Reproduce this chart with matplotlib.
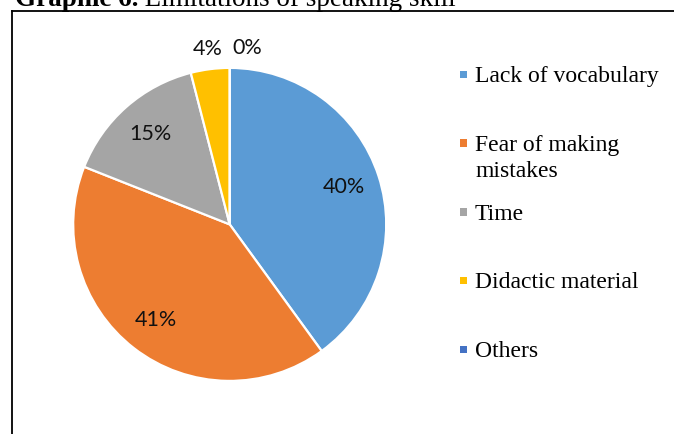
import matplotlib
matplotlib.use("Agg")
import matplotlib.pyplot as plt
from matplotlib.lines import Line2D
import numpy as np

# ---- data ----
categories = ["Lack of vocabulary", "Fear of making mistakes", "Time",
              "Didactic material", "Others"]
legend_labels = ["Lack of vocabulary", "Fear of making\nmistakes", "Time",
                 "Didactic material", "Others"]
values = [40, 41, 15, 4, 0]
colors = ["#5B9BD5", "#ED7D31", "#A5A5A5", "#FFC000", "#4472C4"]
title_bold = "Graphic 6."
title_rest = " Limitations of speaking skill"

W, H = 674, 434
fig = plt.figure(figsize=(W / 100, H / 100), dpi=100)

def fx(px):
    return px / W

def fy(py):
    return 1 - py / H

# frame
fig.add_artist(Line2D([fx(11.5), fx(11.5)], [fy(10.8), fy(440)], color="black", lw=1.3))
fig.add_artist(Line2D([fx(11.5), fx(680)], [fy(10.8), fy(10.8)], color="black", lw=1.3))

# title (cut off at top, as in the source)
t1 = fig.text(fx(15), fy(6.3), title_bold, fontsize=19.5, fontweight="bold",
              family="Liberation Serif", ha="left", va="baseline")
fig.canvas.draw()
bb = t1.get_window_extent()
fig.text(bb.x1 / W, fy(6.3), title_rest, fontsize=19.5,
         family="Liberation Serif", ha="left", va="baseline")

# pie
cx, cy, r = 229.7, 224.4, 156.5
ax = fig.add_axes([fx(cx - r), fy(cy + r), 2 * r / W, 2 * r / H])
wedges, _ = ax.pie(values, colors=colors, startangle=90, counterclock=False,
                   wedgeprops=dict(edgecolor="white", linewidth=1.6))
ax.set_xlim(-1, 1)
ax.set_ylim(-1, 1)
ax.set_aspect("auto")
ax.axis("off")

total = sum(values)
for w, v in zip(wedges, values):
    mid = np.deg2rad((w.theta1 + w.theta2) / 2)
    label = f"{v / total * 100:.0f}%"
    if v / total >= 0.10:
        rr = 0.77
        ax.text(rr * np.cos(mid), rr * np.sin(mid), label, ha="center", va="center",
                fontsize=15.5, family="Lato", color="#111111")
    else:
        rr = 1.13
        ha = "center" if v > 0 else "left"
        dx = 0.02 if v == 0 else 0
        ax.text(rr * np.cos(mid) + dx, rr * np.sin(mid), label, ha=ha, va="center",
                fontsize=15.5, family="Lato", color="#111111")

# legend (manual, evenly pitched entries)
base0, pitch, line_step = 82.3, 68.7, 26.3
for i, (lab, col) in enumerate(zip(legend_labels, colors)):
    yb = base0 + pitch * i
    nlines = lab.count("\n") + 1
    fig.add_artist(plt.Rectangle((fx(459.8), fy(yb - 4.0)), 7.5 / W, 7.5 / H,
                                 facecolor=col, edgecolor="none"))
    fig.text(fx(475), fy(yb + line_step * (nlines - 1)), lab, fontsize=17,
             family="Liberation Serif", ha="left", va="baseline", linespacing=1.3)

fig.savefig("out.png", dpi=100)
